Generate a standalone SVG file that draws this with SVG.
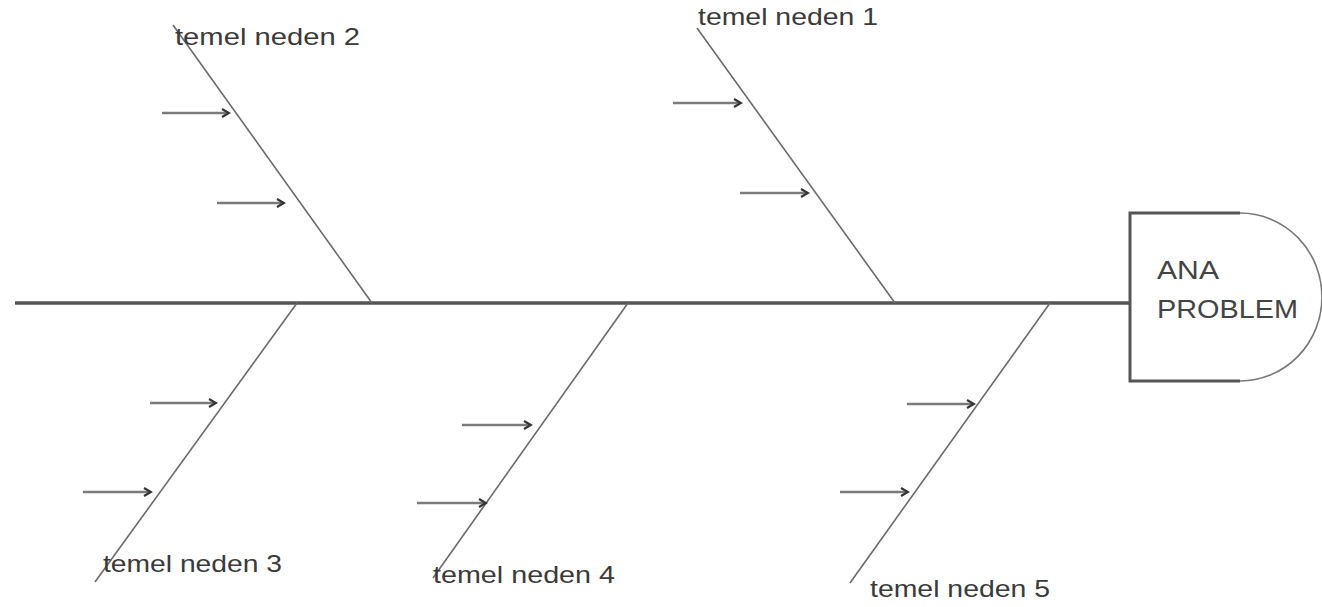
<svg xmlns="http://www.w3.org/2000/svg" width="1322" height="607" viewBox="0 0 1322 607">
<style>
.lbl{font-family:"Liberation Sans","DejaVu Sans",sans-serif;font-size:24px;fill:#3a3a3a}
.head{font-family:"Liberation Sans","DejaVu Sans",sans-serif;font-size:25px;fill:#444}
.bone{stroke:#6a6a6a;stroke-width:1.6;fill:none}
.spine{stroke:#555;stroke-width:3.5;fill:none}
.sub{stroke:#7a7a7a;stroke-width:2.5;fill:none;marker-end:url(#ah)}
</style>
<defs>
<marker id="ah" markerWidth="10" markerHeight="10" refX="7" refY="5" orient="auto" markerUnits="userSpaceOnUse">
<path d="M1,1 L8,5 L1,9" fill="none" stroke="#333" stroke-width="2.2"/>
</marker>
</defs>
<rect width="1322" height="607" fill="#fff"/>
<g id="connectors">
<line class="spine" x1="15" y1="303" x2="1130" y2="303"/>
<line class="bone" x1="697" y1="28" x2="895" y2="303"/>
<line class="bone" x1="173" y1="25" x2="372" y2="303"/>
<line class="bone" x1="297" y1="303" x2="95" y2="582"/>
<line class="bone" x1="628" y1="303" x2="433" y2="578"/>
<line class="bone" x1="1050" y1="303" x2="850" y2="583"/>
<line class="sub" x1="673" y1="103" x2="740" y2="103"/>
<line class="sub" x1="740" y1="193" x2="807" y2="193"/>
<line class="sub" x1="162" y1="113" x2="228" y2="113"/>
<line class="sub" x1="217" y1="203" x2="283" y2="203"/>
<line class="sub" x1="150" y1="403" x2="215" y2="403"/>
<line class="sub" x1="83" y1="492" x2="150" y2="492"/>
<line class="sub" x1="462" y1="425" x2="530" y2="425"/>
<line class="sub" x1="417" y1="503" x2="485" y2="503"/>
<line class="sub" x1="907" y1="404" x2="973" y2="404"/>
<line class="sub" x1="840" y1="492" x2="907" y2="492"/>
</g>
<g id="problem">
<path d="M1240,213 H1130 V381 H1240" fill="none" stroke="#555" stroke-width="3"/>
<path d="M1240,381 A82,84 0 0 0 1240,213" fill="none" stroke="#777" stroke-width="1.6"/>
<text class="head" x="1157" y="279" textLength="62" lengthAdjust="spacingAndGlyphs">ANA</text>
<text class="head" x="1157" y="318" textLength="141" lengthAdjust="spacingAndGlyphs">PROBLEM</text>
</g>
<g id="cause1"><text class="lbl" x="698" y="25" textLength="180" lengthAdjust="spacingAndGlyphs">temel neden 1</text></g>
<g id="cause2"><text class="lbl" x="175" y="45" textLength="185" lengthAdjust="spacingAndGlyphs">temel neden 2</text></g>
<g id="cause3"><text class="lbl" x="103" y="572" textLength="179" lengthAdjust="spacingAndGlyphs">temel neden 3</text></g>
<g id="cause4"><text class="lbl" x="433" y="583" textLength="182" lengthAdjust="spacingAndGlyphs">temel neden 4</text></g>
<g id="cause5"><text class="lbl" x="870" y="597" textLength="180" lengthAdjust="spacingAndGlyphs">temel neden 5</text></g>
</svg>
